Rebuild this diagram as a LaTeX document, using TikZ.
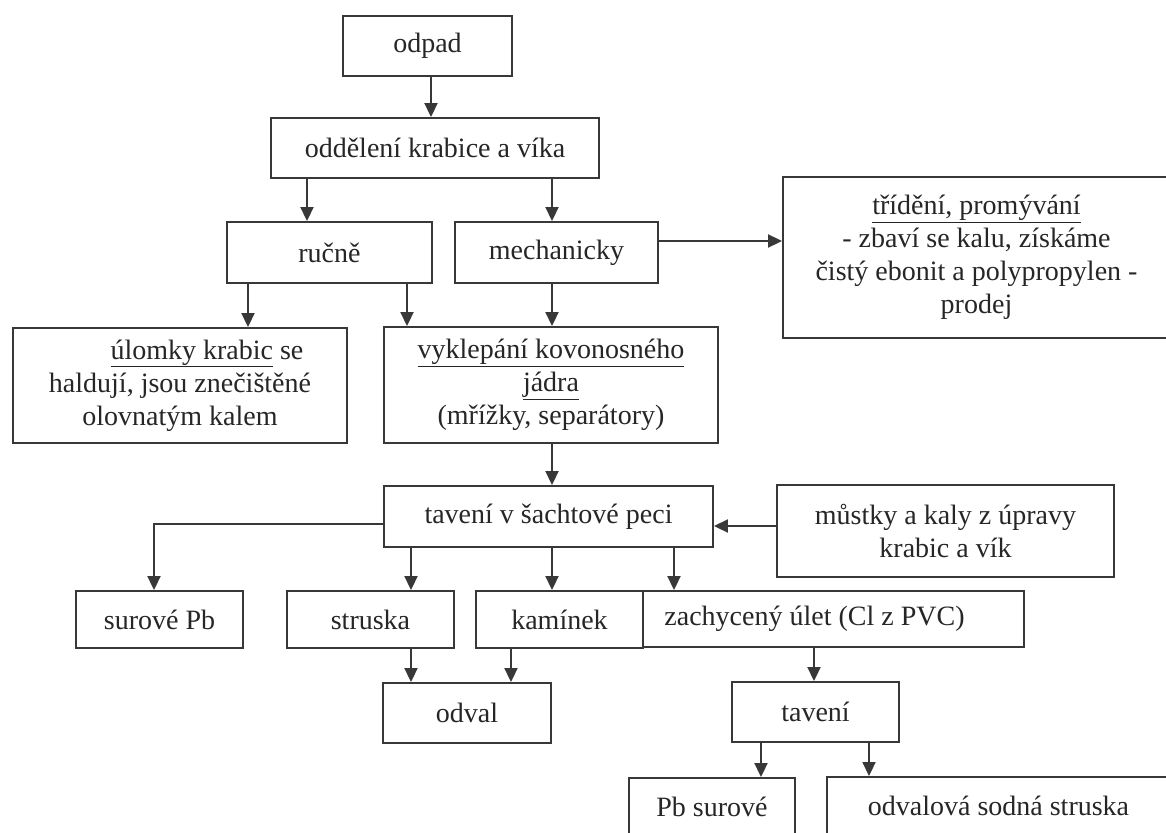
\documentclass[tikz,border=0pt]{standalone}
\usepackage{fontspec}
\setmainfont{Liberation Serif}
\usetikzlibrary{arrows.meta}
\tikzset{
  box/.style={draw=black!78, line width=1.9pt, rectangle, inner sep=2pt,
    align=center, text=black!85,
    font=\fontsize{28}{33}\selectfont},
  arr/.style={draw=black!78, line width=1.9pt,
    -{Triangle[length=14pt,width=13pt]}}
}
\begin{document}
\begin{tikzpicture}[x=1pt,y=-1pt]
\clip (0,0) rectangle (1166,832);
\fill[white] (0,0) rectangle (1166,832);

% helper coordinates
\coordinate (x154) at (154,0);
\coordinate (x248) at (248,0);
\coordinate (x307) at (307,0);
\coordinate (x407) at (407,0);
\coordinate (x411) at (411,0);
\coordinate (x431) at (431,0);
\coordinate (x511) at (511,0);
\coordinate (x552) at (552,0);
\coordinate (x674) at (674,0);
\coordinate (x761) at (761,0);
\coordinate (x814) at (814,0);
\coordinate (x869) at (869,0);
\coordinate (y241) at (0,241);
\coordinate (y524) at (0,524);
\coordinate (y526) at (0,526);

% boxes
\node[box, minimum width=169pt, minimum height=60pt] (odpad) at (427.5,46) {odpad};
\node[box, minimum width=328pt, minimum height=60pt] (oddel) at (435,148) {oddělení krabice a víka};
\node[box, minimum width=205pt, minimum height=61pt] (rucne) at (329.5,252.5) {ručně};
\node[box, minimum width=203pt, minimum height=61pt] (mech) at (556.5,252.5) {mechanicky};
\node[box, minimum width=387pt, minimum height=161pt] (trideni) at (976.5,257.5)
  {\underline{třídění, promývání}\\- zbaví se kalu, získáme\\čistý ebonit a polypropylen -\\prodej};
\node[box, minimum width=334pt, minimum height=115pt] (ulomky) at (180,385.5)
  {\hspace*{54pt}\underline{úlomky krabic} se\\haldují, jsou znečištěné\\olovnatým kalem};
\node[box, minimum width=334pt, minimum height=116pt] (vyklep) at (551,385)
  {\underline{vyklepání kovonosného}\\\underline{jádra}\\(mřížky, separátory)};
\node[box, minimum width=329pt, minimum height=61pt] (taveni1) at (548.5,516.5) {tavení v šachtové peci};
\node[box, minimum width=337pt, minimum height=92pt] (mustky) at (945.5,531)
  {můstky a kaly z úpravy\\krabic a vík};
\node[box, minimum width=167pt, minimum height=57pt] (surove) at (159.5,619.5) {surové Pb};
\node[box, minimum width=167pt, minimum height=57pt] (struska) at (370.5,619.5) {struska};
\node[box, minimum width=167pt, minimum height=57pt] (kaminek) at (559.5,619.5) {kamínek};
\node[box, minimum width=381pt, minimum height=56pt] (zachyc) at (833.5,619)
  {zachycený úlet (Cl z PVC)\hspace*{38pt}};
\node[box, minimum width=168pt, minimum height=60pt] (odval) at (467,713) {odval};
\node[box, minimum width=167pt, minimum height=60pt] (taveni2) at (815.5,712) {tavení};
\node[box, minimum width=166pt, minimum height=58pt] (pbsur) at (712,807) {Pb surové};
\node[box, minimum width=343pt, minimum height=58pt] (odvalova) at (998.5,806) {odvalová sodná struska};

% connectors
\draw[arr] (odpad.south -| x431) -- (oddel.north -| x431);
\draw[arr] (oddel.south -| x307) -- (rucne.north -| x307);
\draw[arr] (oddel.south -| x552) -- (mech.north -| x552);
\draw[arr] (mech.east |- y241) -- (trideni.west |- y241);
\draw[arr] (rucne.south -| x248) -- (ulomky.north -| x248);
\draw[arr] (rucne.south -| x407) -- (vyklep.north -| x407);
\draw[arr] (mech.south -| x552) -- (vyklep.north -| x552);
\draw[arr] (vyklep.south -| x552) -- (taveni1.north -| x552);
\draw[arr] (mustky.west |- y526) -- (taveni1.east |- y526);
\draw[arr] (taveni1.west |- y524) -| (surove.north -| x154);
\draw[arr] (taveni1.south -| x411) -- (struska.north -| x411);
\draw[arr] (taveni1.south -| x552) -- (kaminek.north -| x552);
\draw[arr] (taveni1.south -| x674) -- (zachyc.north -| x674);
\draw[arr] (struska.south -| x411) -- (odval.north -| x411);
\draw[arr] (kaminek.south -| x511) -- (odval.north -| x511);
\draw[arr] (zachyc.south -| x814) -- (taveni2.north -| x814);
\draw[arr] (taveni2.south -| x761) -- (pbsur.north -| x761);
\draw[arr] (taveni2.south -| x869) -- (odvalova.north -| x869);
\end{tikzpicture}
\end{document}
